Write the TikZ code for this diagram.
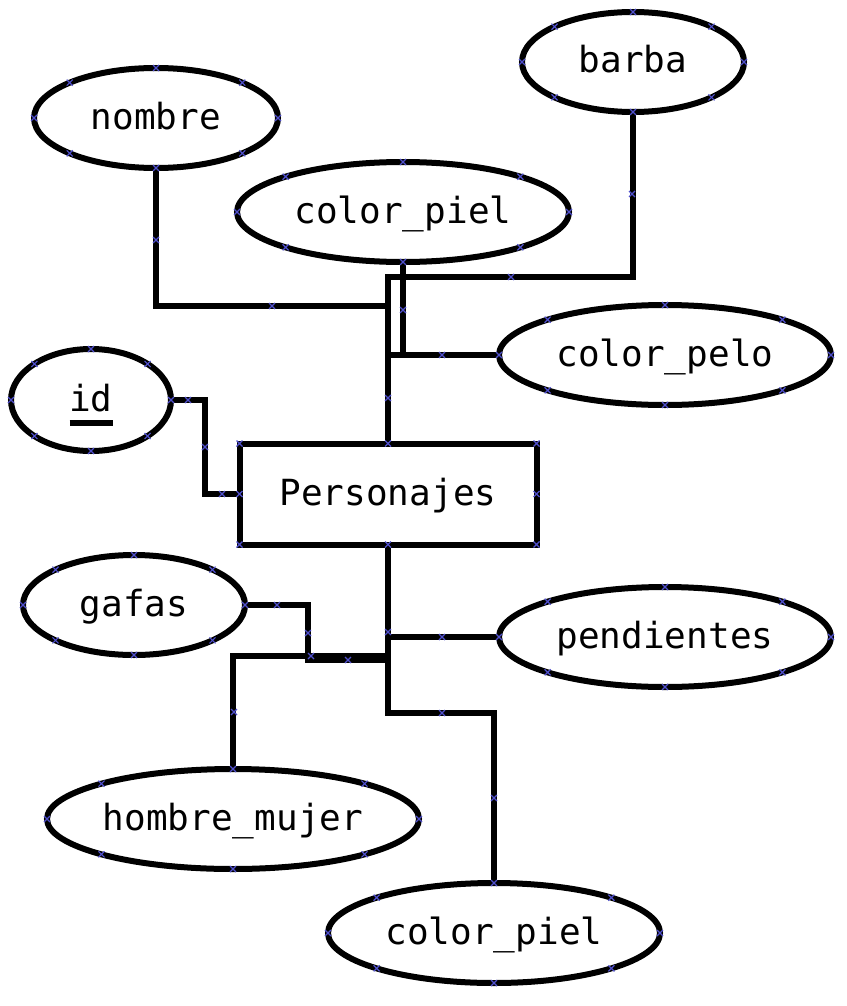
\documentclass[tikz,border=0pt]{standalone}
\usepackage{fontspec}
\newfontfamily\djmono{DejaVu Sans Mono}
\usetikzlibrary{shapes.geometric,calc}
\definecolor{mkblue}{RGB}{80,80,205}
\newcommand\mkx[1]{\draw[mk] #1 ++(-3,-3) -- ++(6,6) ++(-6,0) -- ++(6,-6);}
\newcommand\ellmk[4]{\foreach \a in {0,45,...,315}{\mkx{({#1+#3*cos(\a)},{#2+#4*sin(\a)})}}}
\begin{document}
\begin{tikzpicture}[x=0.5pt,y=-0.5pt,
  ln/.style={line width=3pt},
  lbl/.style={font=\djmono\fontsize{18}{20}\selectfont,text height=14pt,text depth=3pt},
  attr/.style={ellipse,draw,line width=3pt,fill=white,inner sep=0pt,outer sep=0pt,lbl},
  ent/.style={rectangle,draw,line width=3pt,fill=white,inner sep=0pt,outer sep=0pt,lbl},
  mk/.style={draw=mkblue,line width=0.6pt}]
\useasboundingbox (0,0) rectangle (846,1006);

% nodes
\node[attr,minimum width=122pt,minimum height=50pt] (nombre) at (156,118) {nombre};
\node[attr,minimum width=111pt,minimum height=50pt] (barba) at (633,62) {barba};
\node[attr,minimum width=166pt,minimum height=50pt] (cpiel1) at (403,212) {color\_piel};
\node[attr,minimum width=166pt,minimum height=50pt] (cpelo) at (665,355) {color\_pelo};
\node[attr,minimum width=80pt,minimum height=51pt] (id) at (91,400) {id};
\node[ent,minimum width=148.5pt,minimum height=50.5pt] (pers) at (388,494) {Personajes};
\node[attr,minimum width=111pt,minimum height=50pt] (gafas) at (134,605) {gafas};
\node[attr,minimum width=166pt,minimum height=50pt] (pend) at (665,637) {pendientes};
\node[attr,minimum width=186pt,minimum height=50pt] (hm) at (233,819) {hombre\_mujer};
\node[attr,minimum width=166pt,minimum height=50pt] (cpiel2) at (494,933) {color\_piel};

% underline of key attribute
\draw[ln] ($(id.center)+(-21.5,23)$) -- ($(id.center)+(21.5,23)$);

% bend coordinates
\coordinate (j1) at (388,306);
\coordinate (j2) at (388,277);
\coordinate (j4) at (388,355);
\coordinate (k1) at (205,447);
\coordinate (b2) at (388,713);
\coordinate (g1) at (308,632);
\coordinate (g2) at (388,660);
\coordinate (h1) at (388,656);

% connectors
\draw[ln] (nombre.south) |- (j1) -- (pers.north);
\draw[ln] (barba.south) |- (j2) -- (pers.north);
\draw[ln] (cpiel1.south) |- (j4) -- (pers.north);
\draw[ln] (cpelo.west) -- (j4) -- (pers.north);
\draw[ln] (id.east) -| (k1) |- (pers.west);
\draw[ln] (pend.west) -| (pers.south);
\draw[ln] (cpiel2.north) |- (b2) -- (pers.south);
\draw[ln] (gafas.east) -| (g1) |- (g2) -- (pers.south);
\draw[ln] (hm.north) |- (h1) -- (pers.south);

% connection point markers
\ellmk{156}{118}{122}{50}
\ellmk{633}{62}{111}{50}
\ellmk{403}{212}{166}{50}
\ellmk{665}{355}{166}{50}
\ellmk{91}{400}{80}{51}
\ellmk{134}{605}{111}{50}
\ellmk{665}{637}{166}{50}
\ellmk{233}{819}{186}{50}
\ellmk{494}{933}{166}{50}
\foreach \p in {north west,north,north east,east,south east,south,south west,west}{\mkx{(pers.\p)}}
\foreach \q in {(156,240),(272,306),(632,194),(511,277),(403,310),(442,355),(388,398),
  (188,400),(205,447),(222,494),(277,605),(308,633),(348,660),(388,632),(442,637),
  (442,713),(234,712),(494,798),(311,656)}{\mkx{\q}}
\end{tikzpicture}
\end{document}
